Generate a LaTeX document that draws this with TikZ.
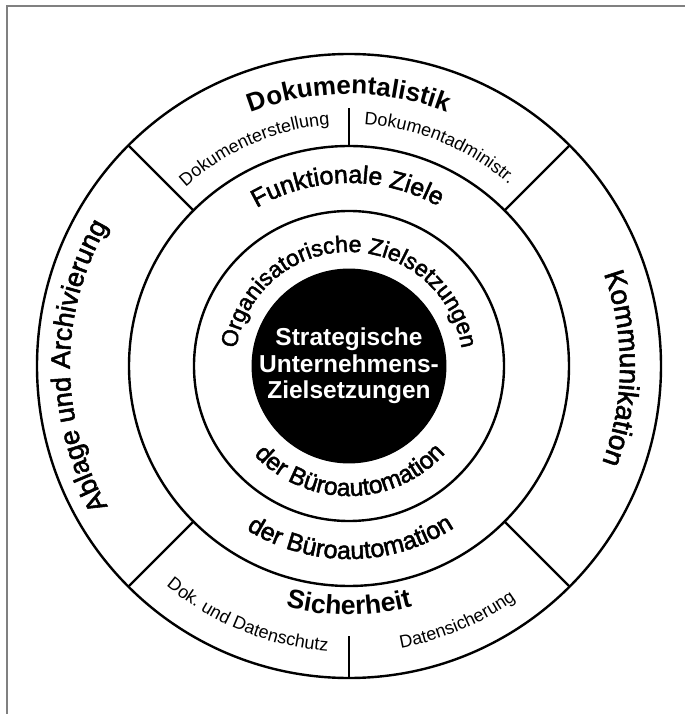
\documentclass[tikz,border=0pt]{standalone}
\usepackage{fontspec}
\setmainfont{Liberation Sans}
\newfontfamily\medfont[FakeBold=2]{Liberation Sans}
\usetikzlibrary{decorations.text}

\begin{document}
\begin{tikzpicture}[x=1pt, y=1pt,
    ring/.style={line width=2.4},
    along/.style={decorate, decoration={text along path, text align=center, text={#1}}}]
        \useasboundingbox (-349,-348) rectangle (341,366);
        % frame
        \draw[gray, line width=1.2] (-342,-348) -- (-342,360) -- (336,360);

        % rings and dividers
        \draw[ring] (0,0) circle[radius=312];
        \draw[ring] (0,0) circle[radius=220];
        \draw[ring] (0,0) circle[radius=155];
        \foreach \a in {45,135,225,315}
            \draw[ring] (\a:220) -- (\a:312);
        \draw[ring] (90:220) -- (90:258);
        \draw[ring] (270:270) -- (270:312);

        \node[circle, fill=black, minimum size=187pt, inner sep=0pt, text=white, align=center,
            font=\bfseries\fontsize{24.5}{26.5}\selectfont] (core) at (0,0) {Strategische\\Unternehmens-\\Zielsetzungen};

        % outer ring
        \path[along={|\bfseries\fontsize{26}{26}\selectfont|Dokumentalistik}] (150:272) arc[start angle=150, end angle=30, radius=272];
        \path[along={|\fontsize{18}{18}\selectfont|Dokumenterstellung}] (140:242) arc[start angle=140, end angle=87, radius=242];
        \path[along={|\fontsize{18}{18}\selectfont|Dokumentadministr.}] (94:242) arc[start angle=94, end angle=41, radius=242];
        \path[along={|\medfont\fontsize{27}{27}\selectfont|Ablage und Archivierung}] (240:279) arc[start angle=240, end angle=120, radius=279];
        \path[along={|\medfont\fontsize{28}{28}\selectfont|Kommunikation}] (50:271) arc[start angle=50, end angle=-51, radius=271];
        \path[along={|\bfseries\fontsize{26.5}{26.5}\selectfont|Sicherheit}] (240:249) arc[start angle=240, end angle=300, radius=249];
        \path[along={|\fontsize{18}{18}\selectfont|Dok. und Datenschutz}] (222:286) arc[start angle=222, end angle=274, radius=286];
        \path[along={|\fontsize{18}{18}\selectfont|Datensicherung}] (268:287) arc[start angle=268, end angle=318, radius=287];

        % middle ring
        \path[along={|\medfont\fontsize{25}{25}\selectfont|Funktionale Ziele}] (150:183) arc[start angle=150, end angle=31, radius=183];
        \path[along={|\medfont\fontsize{25}{25}\selectfont|der Büroautomation}] (210:193) arc[start angle=210, end angle=331, radius=193];

        % inner ring
        \path[along={|\medfont\fontsize{23}{23}\selectfont|Organisatorische Zielsetzungen}] (200:114) arc[start angle=200, end angle=-20, radius=114];
        \path[along={|\medfont\fontsize{24.5}{24.5}\selectfont|der Büroautomation}] (200:130) arc[start angle=200, end angle=341, radius=130];
    \end{tikzpicture}
\end{document}
